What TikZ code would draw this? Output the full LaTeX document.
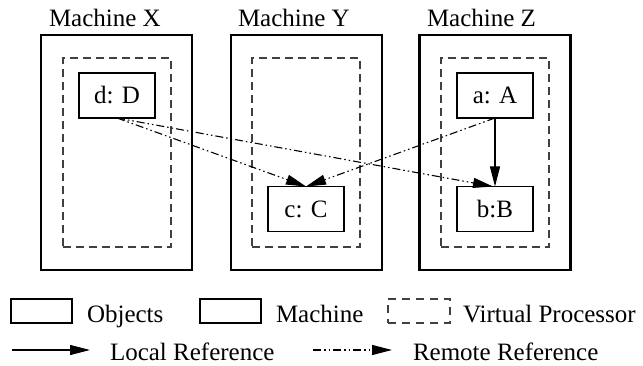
\documentclass[tikz,border=0pt]{standalone}
\usepackage{fontspec}
\setmainfont{Liberation Serif}
\usetikzlibrary{arrows.meta}
\begin{document}
\begin{tikzpicture}[x=1pt,y=-1pt,
  every node/.style={font=\fontsize{25}{30}\selectfont, inner sep=0pt, outer sep=0pt},
  machine/.style={draw=black, line width=2.6pt, minimum width=151pt, minimum height=235pt},
  vproc/.style={draw=black!75, line width=1.1pt, dash pattern=on 8pt off 5pt, minimum width=108pt, minimum height=189pt},
  objbox/.style={draw=black, line width=1.1pt, minimum width=76pt, minimum height=45pt},
  lbl/.style={anchor=base west},
  tip/.style={-{Triangle[length=20pt,width=10pt]}},
  local/.style={line width=1.1pt, tip},
  remote/.style={line width=1.1pt, dash pattern=on 8pt off 3pt on 1.5pt off 3pt on 1.5pt off 3pt, tip}
]
\useasboundingbox (0,0) rectangle (643,366);
% machines
\node[machine] (mx) at (116.5,152.5) {};
\node[machine] (my) at (306.5,152.5) {};
\node[machine] (mz) at (495,152.5) {};
\node[lbl] (tx) at (49,27) {Machine X};
\node[lbl] (ty) at (238,27) {Machine Y};
\node[lbl] (tz) at (427,27) {Machine Z};
% virtual processors
\node[vproc] (vx) at (117,152.5) {};
\node[vproc] (vy) at (306,152.5) {};
\node[vproc] (vz) at (495,152.5) {};
% objects
\node[objbox] (d) at (117,95.5) {d: D};
\node[objbox] (c) at (306,209) {c: C};
\node[objbox] (a) at (495,95.5) {a: A};
\node[objbox] (b) at (495,209) {b:B};
% references
\draw[remote] (d.south) -- (c.north);
\draw[remote] (d.south) -- ([xshift=-2pt]b.north);
\draw[remote] (a.south) -- (c.north);
\draw[local] (a.south) -- (b.north);
% legend
\node[objbox, minimum width=61pt, minimum height=24pt] (lo) at (41.5,311) {};
\node[lbl] (lot) at (87,323) {Objects};
\node[machine, minimum width=61pt, minimum height=24pt] (lm) at (230.5,311) {};
\node[lbl] (lmt) at (276,323) {Machine};
\node[vproc, minimum width=62pt, minimum height=24pt, dash pattern=on 8pt off 6pt] (lv) at (419,311) {};
\node[lbl] (lvt) at (463,323) {Virtual Processor};
\coordinate (l1) at (12,350);
\coordinate (l2) at (90,350);
\draw[local] (l1) -- (l2);
\node[lbl] (llt) at (110,360) {Local Reference};
\coordinate (r1) at (313,350);
\coordinate (r2) at (392,350);
\draw[remote] (r1) -- (r2);
\node[lbl] (lrt) at (413,360) {Remote Reference};
\end{tikzpicture}
\end{document}
